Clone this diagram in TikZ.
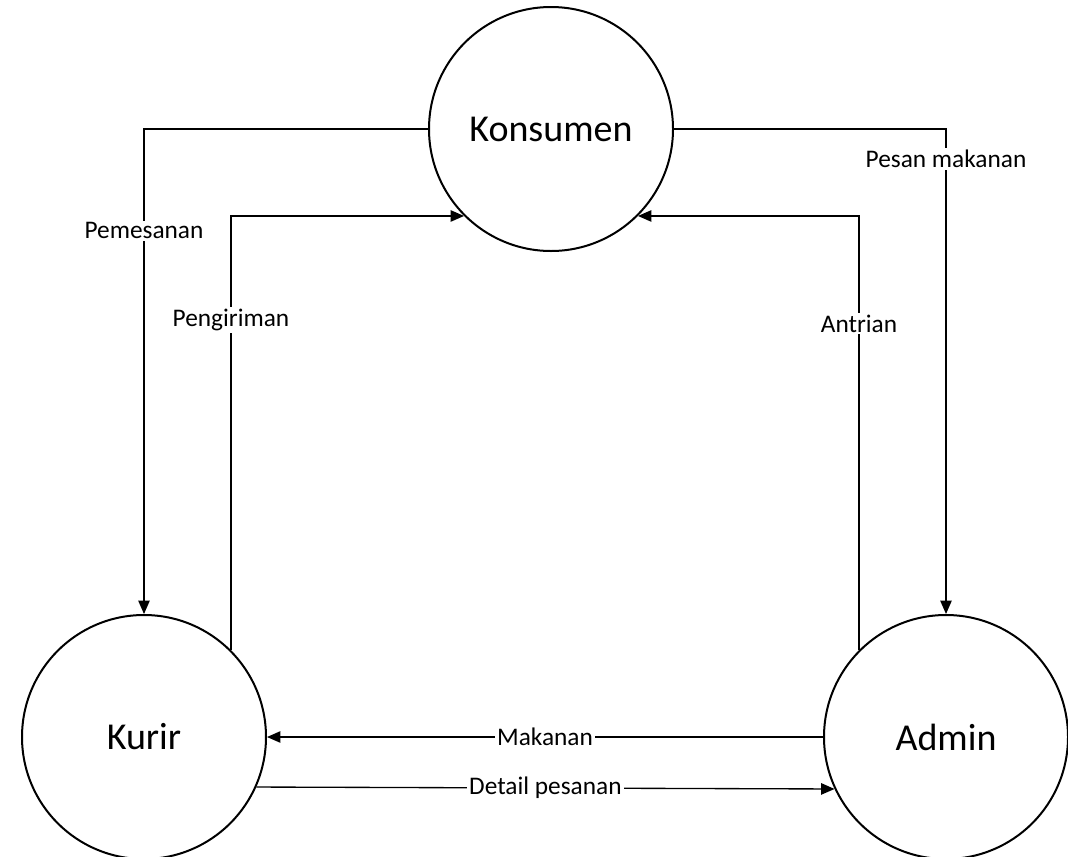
\documentclass[tikz,border=0pt]{standalone}
\usepackage{fontspec}
\setmainfont{Carlito}
\usetikzlibrary{arrows.meta}
\begin{document}
\begin{tikzpicture}[x=0.75pt,y=-0.75pt,
  entity/.style={circle,draw,line width=1.5pt,minimum size=183pt,inner sep=0pt,
    font=\fontsize{28.5}{34}\selectfont},
  flow/.style={line width=1pt,-{Triangle[length=10pt,width=8.5pt]}},
  lbl/.style={fill=white,inner sep=1.5pt,font=\fontsize{19}{23}\selectfont}]
\useasboundingbox (0,0) rectangle (1068,857);
\clip (0,0) rectangle (1068,857);
\node[entity] (kons) at (551,129) {Konsumen};
\node[entity] (kurir) at (144,737) {Kurir};
\node[entity] (admin) at (946,737) {Admin};
% flows from the customer
\draw[flow] (kons.west) -| (kurir.north) node[lbl,pos=0.605] {Pemesanan};
\draw[flow] (kons.east) -| (admin.north) node[lbl,pos=0.531] {Pesan makanan};
% flows back to the customer
\draw[flow] (kurir.north east) |- (kons.south west) node[lbl,pos=0.38] {Pengiriman};
\draw[flow] (admin.north west) |- (kons.south east) node[lbl,pos=0.376] {Antrian};
% flows between courier and admin
\draw[flow] (admin.west) -- (kurir.east) node[lbl,pos=0.5] {Makanan};
\draw[flow] (kurir.-24.2) -- (admin.205.7) node[lbl,pos=0.5] {Detail pesanan};
\end{tikzpicture}
\end{document}
